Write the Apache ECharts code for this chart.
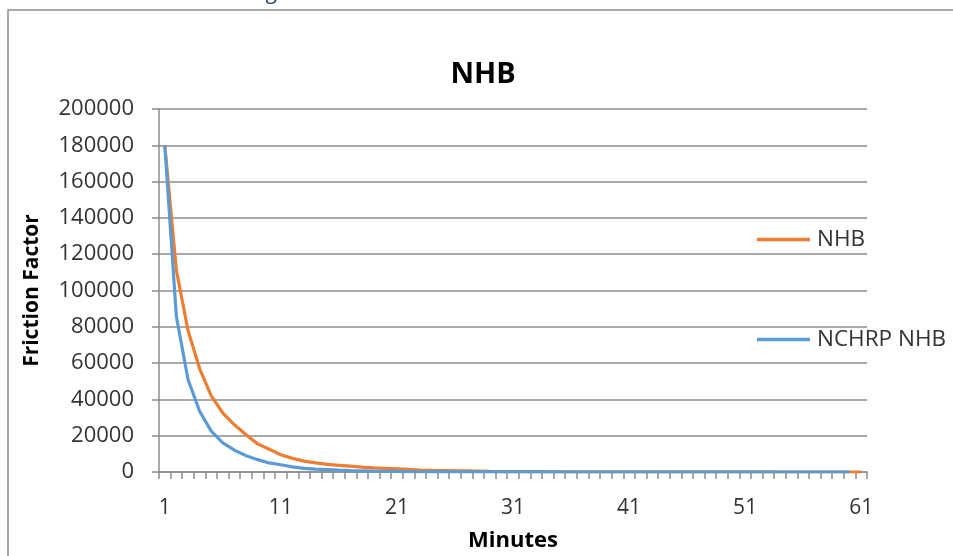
<!DOCTYPE html>
<html>
<head>
<meta charset="utf-8">
<script src="https://cdn.jsdelivr.net/npm/echarts@6/dist/echarts.min.js"></script>
<style>html,body{margin:0;padding:0;background:#fff}#c{width:953px;height:556px}</style>
</head>
<body>
<div id="c"></div>
<script>
const minutes = ['1','2','3','4','5','6','7','8','9','10','11','12','13','14','15','16','17','18','19','20',
  '21','22','23','24','25','26','27','28','29','30','31','32','33','34','35','36','37','38','39','40',
  '41','42','43','44','45','46','47','48','49','50','51','52','53','54','55','56','57','58','59','60','61'];
const nhb = [180000,111000,78000,57000,42000,32500,26000,20500,15500,12500,9500,7500,6000,5000,4200,3700,3200,2700,2300,2000,
  1700,1400,1100,900,800,700,600,500,300,250,200,180,160,140,120,100,90,80,70,60,
  50,45,40,35,30,28,26,24,22,20,18,16,14,12,10,8,6,4,3,2,1];
const nchrpNhb = [180000,85500,51000,33500,22500,16000,12000,9000,6800,5000,4000,2800,2000,1600,1300,1000,800,650,500,400,
  300,200,150,120,100,80,60,50,40,30,25,20,18,16,14,12,10,9,8,7,
  6,5,5,4,4,3,3,3,2,2,2,2,1,1,1,1,1,1,1,1];
const yTicks = {min: 0, max: 200000, interval: 20000};

const FONT = '"Open Sans", "Liberation Sans", sans-serif';
const chart = echarts.init(document.getElementById('c'), null, {renderer: 'canvas'});
const legendCommon = {
  orient: 'vertical', left: 757, itemWidth: 53, itemHeight: 3.5, itemGap: 0, padding: 0,
  icon: 'rect',
  textStyle: {fontFamily: FONT, fontSize: 22.5, color: '#333', padding: [0, 0, 0, 2]}
};
chart.setOption({
  animation: false,
  backgroundColor: '#fff',
  title: {
    text: 'NHB', left: 478, top: 55, textAlign: 'center',
    textStyle: {fontFamily: FONT, fontSize: 29, fontWeight: 'bold', color: '#000'}
  },
  graphic: [
    {type: 'rect', shape: {x: 8, y: 10, width: 1200, height: 800},
     style: {fill: 'none', stroke: '#8a8a8a', lineWidth: 1.5}, silent: true},
    {type: 'text', x: 267, y: 4, style: {text: 'g', fontSize: 22, fontStyle: 'italic', fontFamily: FONT,
     fill: '#1f3864', verticalAlign: 'bottom'}, silent: true}
  ],
  legend: [
    Object.assign({data: ['NHB'], top: 228}, legendCommon),
    Object.assign({data: ['NCHRP NHB'], top: 328}, legendCommon)
  ],
  grid: {left: 159, right: 86, top: 109, bottom: 84, containLabel: false, outerBoundsMode: 'none'},
  xAxis: {
    type: 'category', data: minutes, boundaryGap: true,
    name: 'Minutes', nameLocation: 'middle', nameGap: 58,
    nameTextStyle: {fontFamily: FONT, fontSize: 22, fontWeight: 'bold', color: '#000'},
    axisLine: {lineStyle: {color: '#8c8c8c', width: 1.5}},
    axisTick: {show: true, interval: 0, alignWithLabel: false, length: 7, lineStyle: {color: '#8c8c8c', width: 1.5}},
    axisLabel: {interval: 9, margin: 26, fontFamily: FONT, fontSize: 21, color: '#333'},
    splitLine: {show: false}
  },
  yAxis: {
    type: 'value', min: yTicks.min, max: yTicks.max, interval: yTicks.interval,
    name: 'Friction Factor', nameLocation: 'middle', nameGap: 116, nameRotate: 90,
    nameTextStyle: {fontFamily: FONT, fontSize: 21, fontWeight: 'bold', color: '#000'},
    axisLine: {show: true, lineStyle: {color: '#8c8c8c', width: 1.5}},
    axisTick: {show: true, length: 7, lineStyle: {color: '#8c8c8c', width: 1.5}},
    axisLabel: {margin: 25, fontFamily: FONT, fontSize: 22, color: '#333', formatter: v => String(v)},
    splitLine: {show: true, lineStyle: {color: '#8c8c8c', width: 1.5}}
  },
  series: [
    {name: 'NHB', type: 'line', data: nhb, symbol: 'none', smooth: false,
     lineStyle: {color: '#ED7D31', width: 3.2}, itemStyle: {color: '#ED7D31'}},
    {name: 'NCHRP NHB', type: 'line', data: nchrpNhb, symbol: 'none', smooth: false,
     lineStyle: {color: '#5B9BD5', width: 3.2}, itemStyle: {color: '#5B9BD5'}}
  ]
});
</script>
</body>
</html>
